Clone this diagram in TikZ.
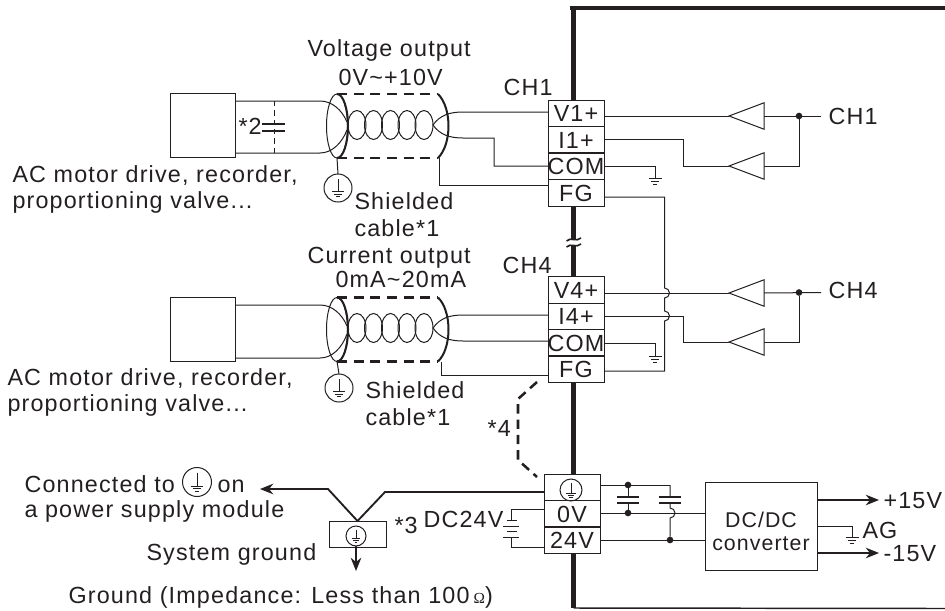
\documentclass[tikz,border=0pt]{standalone}
\usepackage{fontspec}
\setmainfont[LetterSpace=5]{Liberation Sans}
\newfontfamily\ohmfont{Liberation Serif}
\usetikzlibrary{arrows.meta,shapes.geometric}
\definecolor{ink}{HTML}{231F20}
\tikzset{every picture/.style={line width=0.75pt,color=ink}}
\tikzset{
  lab/.style={anchor=base west,inner sep=0pt,font=\fontsize{17.5}{20}\selectfont},
  term/.style={draw,inner sep=0pt,outer sep=0pt,minimum width=42pt,minimum height=19.8pt,font=\fontsize{17.5}{20}\selectfont},
  box/.style={draw,inner sep=0pt,outer sep=0pt},
  amp/.style={draw,shape=isosceles triangle,isosceles triangle stretches,shape border rotate=180,inner sep=0pt,outer sep=0pt,minimum width=19.8pt,minimum height=26.25pt,anchor=apex},
  dot/.style={circle,fill,inner sep=0pt,outer sep=0pt,minimum size=5pt},
  shield/.style={draw,ellipse,inner sep=0pt,outer sep=0pt,minimum width=15.75pt,minimum height=48pt},
  heavy/.style={line width=1.5pt},
  sheath/.style={line width=1.9pt,dash pattern=on 7.5pt off 5pt},
  frame/.style={line width=3.5pt},
  power/.style={line width=1.1pt,-{Stealth[length=10pt,width=8pt]}},
  pics/earth/.style={code={
    \node (-disc) [circle,draw,inner sep=0pt,outer sep=0pt,minimum size=#1*0.75pt] at (0,0) {};
    \draw (0,#1*0.32) -- (0,-#1*0.14) (-#1*0.22,-#1*0.14) -- (#1*0.22,-#1*0.14) (-#1*0.15,-#1*0.23) -- (#1*0.15,-#1*0.23) (-#1*0.07,-#1*0.32) -- (#1*0.07,-#1*0.32);
  }},
  pics/gnd/.style={code={
    \draw (-6.5,0) -- (6.5,0) (-4,-3) -- (4,-3) (-2,-6) -- (2,-6);
  }}
}
\begin{document}
\begin{tikzpicture}[x=0.75pt,y=0.75pt,yscale=-1,xscale=1]
\useasboundingbox (0,0) rectangle (945,610);

%Shape: Terminals CH1
\draw (576,113.5) node (v1) [term] {V1+};
\draw (576,140) node (i1) [term] {I1+};
\draw (576,166) node (com1) [term] {\makebox[0pt]{COM}};
\draw (576,193) node (fg1) [term] {FG};
%Shape: Terminals CH4
\draw (576,290) node (v4) [term] {V4+};
\draw (576,316.5) node (i4) [term] {I4+};
\draw (576,343) node (com4) [term] {\makebox[0pt]{COM}};
\draw (576,369) node (fg4) [term] {FG};
%Shape: Terminals power
\draw (572,487.5) node (pe) [term] {};
\draw (572,514) node (zero) [term] {0V};
\draw (572,540) node (plus) [term] {24V};
\pic (e3) at (571,490) {earth=22};

%Shape: Module frame
\coordinate (ftop) at (573.5,8);
\coordinate (fbot) at (573.5,608);
\coordinate (brka) at (573.5,239);
\coordinate (brkb) at (573.5,246);
\draw [frame] (569.5,8) -- (945,8);
\draw [line width=1.1pt] (fbot) -- (945,608.5);
\draw [frame] (ftop) -- (v1.north -| ftop);
\draw [frame] (fg1.south -| ftop) -- (brka);
\draw [frame] (brkb) -- (v4.north -| ftop);
\draw [frame] (fg4.south -| ftop) -- (pe.north -| ftop);
\draw [frame] (plus.south -| ftop) -- (fbot);
\draw [line width=1.2pt] (566.5,241) .. controls (571,236.5) and (576,242.5) .. (581,238);
\draw [line width=1.2pt] (566.5,247) .. controls (571,242.5) and (576,248.5) .. (581,244);

%Shape: Device CH1
\draw (202.5,125) node (dev1) [box,minimum width=48.75pt,minimum height=48pt] {};
\coordinate (a1) at (320,101);
\coordinate (b1) at (320,153);
\draw (dev1.east |- a1) -- (a1) .. controls (332,101) and (342,110) .. (347,122);
\draw (dev1.east |- b1) -- (b1) .. controls (332,153) and (342,143) .. (347,130);
\draw [dash pattern=on 4pt off 3pt] (274,101) -- (274,153);
\draw [line width=1.4pt] (262,124) -- (285,124) (262,131) -- (285,131);
%Shape: Cable CH1
\draw (337,126) node (sh1) [shield] {};
\draw [heavy] (337,94) arc[start angle=-90,end angle=90,x radius=11,y radius=32];
\draw [sheath] (337,94) -- (438,94);
\draw [sheath] (337,158) -- (438,158);
\draw [heavy] (438,94) .. controls (452,108) and (452,144) .. (438,158);
\draw (357,125) ellipse [x radius=9,y radius=14.5];
\draw (373.5,125) ellipse [x radius=9,y radius=14.5];
\draw (390.5,125) ellipse [x radius=9,y radius=14.5];
\draw (407,125) ellipse [x radius=9,y radius=14.5];
\draw (424,125) ellipse [x radius=9,y radius=14.5];
\coordinate (c1) at (433,125);
\coordinate (d1) at (494,138);
\draw (c1) .. controls (440,115) and (450,112) .. (463,112) -- (v1.west |- 463,112);
\draw (c1) .. controls (440,135) and (450,138) .. (463,138) -- (d1) |- (com1.west);
\coordinate (s1) at (439,158);
\draw (s1) |- (fg1.west |- 439,185);
\pic (e1) at (338,188) {earth=28};
\draw (sh1.south) -- (e1-disc.north);

%Shape: Device CH4
\draw (202.5,329.5) node (dev4) [box,minimum width=48.75pt,minimum height=47.5pt] {};
\coordinate (a4) at (320,305);
\coordinate (b4) at (320,358);
\draw (dev4.east |- a4) -- (a4) .. controls (332,305) and (342,314) .. (347,326);
\draw (dev4.east |- b4) -- (b4) .. controls (332,358) and (342,348) .. (347,334);
%Shape: Cable CH4
\draw (337,329.5) node (sh4) [shield] {};
\draw [heavy] (337,297.5) arc[start angle=-90,end angle=90,x radius=11,y radius=32];
\draw [sheath] (337,297.5) -- (438,297.5);
\draw [sheath] (337,361.5) -- (438,361.5);
\draw [heavy] (438,297.5) .. controls (452,311) and (452,348) .. (438,361.5);
\draw (357,328) ellipse [x radius=9,y radius=14.5];
\draw (373.5,328) ellipse [x radius=9,y radius=14.5];
\draw (390.5,328) ellipse [x radius=9,y radius=14.5];
\draw (407,328) ellipse [x radius=9,y radius=14.5];
\draw (424,328) ellipse [x radius=9,y radius=14.5];
\coordinate (c4) at (433,328);
\draw (c4) .. controls (440,318) and (450,315) .. (463,315) -- (i4.west |- 463,315);
\draw (c4) .. controls (440,338) and (450,341) .. (463,341) -- (com4.west |- 463,341);
\coordinate (s4) at (441,361.5);
\draw (s4) |- (fg4.west |- 441,375);
\pic (e4) at (339,388) {earth=28};
\draw (sh4.south) -- (e4-disc.north);

%Shape: Amplifiers CH1
\draw (729,116) node (amp1) [amp] {};
\draw (729,166) node (amp2) [amp] {};
\draw (799,116) node (j1) [dot] {};
\coordinate (o1) at (821,116);
\coordinate (t1) at (683,139.5);
\draw (v1.east |- j1) -- (amp1.apex);
\draw (amp1.lower side) -- (o1);
\draw (i1.east |- t1) -- (t1) |- (amp2.apex);
\draw (amp2.lower side) -| (j1);
\coordinate (g1) at (655,178);
\draw (com1.east) -| (g1);
\pic at (g1) {gnd};
%Shape: Amplifiers CH4
\draw (729,293) node (amp3) [amp] {};
\draw (729,342) node (amp4) [amp] {};
\draw (799,292.5) node (j4) [dot] {};
\coordinate (o4) at (821,292.5);
\coordinate (t4) at (683,316);
\draw (v4.east |- amp3.apex) -- (amp3.apex);
\draw (amp3.lower side) -- (o4);
\draw (i4.east |- t4) -- (t4) |- (amp4.apex);
\draw (amp4.lower side) -| (j4);
\coordinate (g4) at (655,356);
\draw (com4.east) -| (g4);
\pic at (g4) {gnd};
%Shape: FG return
\coordinate (r1) at (664.5,197);
\coordinate (r4) at (664.5,371);
\draw (fg1.east |- r1) -- (r1) -- (664.5,288) arc[start angle=-90,end angle=90,radius=5] -- (664.5,311) arc[start angle=-90,end angle=90,radius=5] -- (r4) -- (fg4.east |- r4);

%Shape: FG link
\coordinate (l1) at (537,382);
\coordinate (l2) at (537,477);
\draw [line width=1.9pt,dash pattern=on 7pt off 4.5pt] (l1) -- (518,399) -- (518,460) -- (l2);

%Shape: System ground
\draw (357.5,534) node (sys) [box,minimum width=42.75pt,minimum height=19.5pt] {};
\pic (e5) at (356,536) {earth=20};
\coordinate (w1) at (385,492);
\coordinate (w2) at (328,489);
\coordinate (w3) at (260,489);
\coordinate (w4) at (356,571);
\draw [line width=1.4pt] (sys.north) -- (w1) -- (pe.west |- w1);
\draw [line width=1.4pt,-{Stealth[length=10pt,width=8pt]}] (sys.north) -- (w2) -- (w3);
\draw [line width=1.1pt,-{Stealth[length=10pt,width=8pt]}] (e5-disc.south) -- (w4);

%Shape: DC24V source
\coordinate (p1) at (511,509);
\coordinate (p2) at (511,520);
\coordinate (p3) at (511,537);
\coordinate (p4) at (511,547);
\draw (zero.west |- p1) -- (p1) -- (p2);
\draw (p3) -- (p4) -- (plus.west |- p4);
\draw (506.5,520) -- (517,520) (503,526) -- (519,526) (506.5,531.5) -- (517,531.5) (503,537) -- (519,537);

%Shape: DC/DC converter
\draw (761,526) node (dc) [box,minimum width=84pt,minimum height=66pt] {};
\draw (628,485) node (k1) [dot] {};
\draw (628,513) node (k2) [dot] {};
\draw (670,540) node (k3) [dot] {};
\coordinate (k4) at (670,485);
\draw (pe.east |- k1) -- (k1) -- (k4);
\draw (zero.east |- k2) -- (k2) -- (dc.west |- k2);
\draw (plus.east) -- (k3) -- (dc.west |- k3);
\draw (k1) -- (628,497) (628,503) -- (k2);
\draw (k4) -- (670,497) (670,503) -- (670,508) arc[start angle=-90,end angle=90,radius=5] -- (k3);
\draw [line width=1.1pt] (617,497) -- (639,497) (617,503) -- (639,503) (658.5,497) -- (680.5,497) (658.5,503) -- (680.5,503);
\coordinate (q1) at (879,500);
\coordinate (q2) at (852,526);
\coordinate (q3) at (879,553);
\coordinate (q4) at (852,537);
\draw [power] (dc.east |- q1) -- (q1);
\draw (dc.east |- q2) -- (q2) -- (q4);
\pic at (q4) {gnd};
\draw [power] (dc.east |- q3) -- (q3);

% Text Node
\draw (307,57) node (tvolt) [lab] {Voltage output};
% Text Node
\draw (338,85) node (trange) [lab] {0V\textasciitilde+10V};
% Text Node
\draw (503,95) node (tch1) [lab] {CH1};
% Text Node
\draw (828,124) node (tout1) [lab] {CH1};
% Text Node
\draw (238,134) node (tcap) [lab] {*2};
% Text Node
\draw (12,182) node (tac1) [lab] {AC motor drive, recorder,};
% Text Node
\draw (12,208) node (tpr1) [lab] {proportioning valve...};
% Text Node
\draw (354,209) node (tsh1) [lab] {Shielded};
% Text Node
\draw (354,236) node (tcb1) [lab] {cable*1};
% Text Node
\draw (307,263) node (tcur) [lab] {Current output};
% Text Node
\draw (335,287) node (trng4) [lab] {0mA\textasciitilde20mA};
% Text Node
\draw (502,273) node (tch4) [lab] {CH4};
% Text Node
\draw (828,298) node (tout4) [lab] {CH4};
% Text Node
\draw (7,385) node (tac4) [lab] {AC motor drive, recorder,};
% Text Node
\draw (7,411) node (tpr4) [lab] {proportioning valve...};
% Text Node
\draw (365,398) node (tsh4) [lab] {Shielded};
% Text Node
\draw (365,425) node (tcb4) [lab] {cable*1};
% Text Node
\draw (487,436) node (tlink) [lab] {*4};
% Text Node
\draw (24,492) node (tcon) [lab] {Connected to};
\pic (e6) at (197,482) {earth=29};
% Text Node
\draw (217,492) node (ton) [lab] {on};
% Text Node
\draw (24,517) node (tpsu) [lab] {a power supply module};
% Text Node
\draw (146,560) node (tsys) [lab] {System ground};
% Text Node
\draw (394,533) node (tthree) [lab] {*3};
% Text Node
\draw (423,527) node (tdc) [lab] {DC24V};
% Text Node
\draw (68,603) node (timp) [lab] {Ground (Impedance: Less than 100\hspace{3pt}{\ohmfont\fontsize{11.5}{12}\selectfont Ω})};
% Text Node
\draw (761,527) node (tdc1) [lab,anchor=base,font=\fontsize{16}{18}\selectfont] {DC/DC};
% Text Node
\draw (761,550) node (tdc2) [lab,anchor=base,font=\fontsize{16}{18}\selectfont] {converter};
% Text Node
\draw (883,508) node (tp15) [lab] {+15V};
% Text Node
\draw (862,538) node (tag) [lab] {AG};
% Text Node
\draw (883,561) node (tm15) [lab] {-15V};

\end{tikzpicture}
\end{document}
